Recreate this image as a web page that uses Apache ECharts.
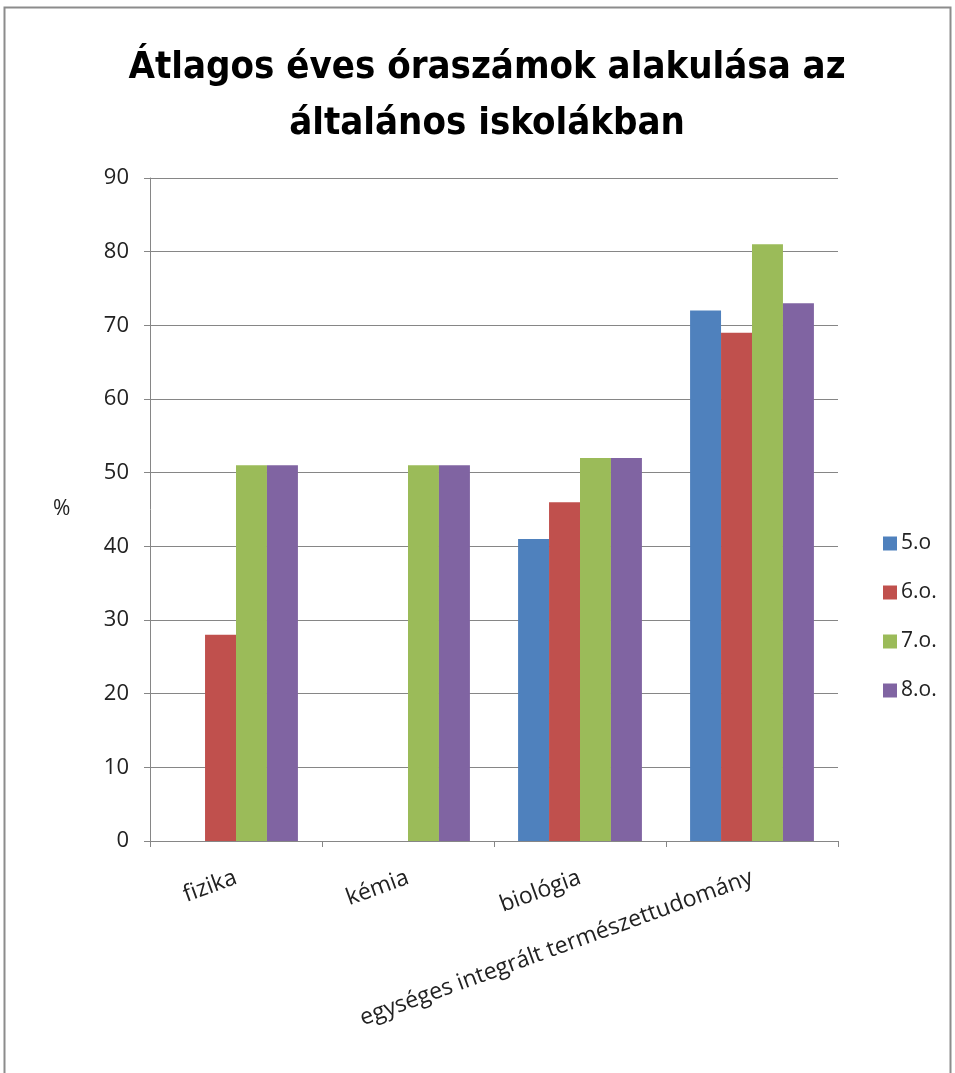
<!DOCTYPE html>
<html>
<head>
<meta charset="utf-8">
<script src="https://cdn.jsdelivr.net/npm/echarts@6/dist/echarts.min.js"></script>
<style>
html,body{margin:0;padding:0;background:#fff;}
#c{width:955px;height:1073px;}
</style>
</head>
<body>
<div id="c"></div>
<script>
const categories = ['fizika', 'kémia', 'biológia', 'egységes integrált természettudomány'];
const seriesNames = ['5.o', '6.o.', '7.o.', '8.o.'];
const s5 = [null, null, 41, 72];
const s6 = [28, null, 46, 69];
const s7 = [51, 51, 52, 81];
const s8 = [51, 51, 52, 73];
const colors = ['#4f81bd', '#c0504d', '#9bbb59', '#8064a2'];
const titleText = 'Átlagos éves óraszámok alakulása az\náltalános iskolákban';
const yAxisName = '%';

const chart = echarts.init(document.getElementById('c'), null, {renderer: 'canvas'});
const font = '"Open Sans", "DejaVu Sans", sans-serif';
const values = [s5, s6, s7, s8];
chart.setOption({
  animation: false,
  backgroundColor: '#fff',
  title: {
    text: titleText,
    left: 482,
    textAlign: 'center',
    top: 35,
    textStyle: {
      fontFamily: '"DejaVu Sans Condensed", "Liberation Sans Narrow", "Open Sans", sans-serif',
      fontWeight: 'bold', fontSize: 38, lineHeight: 56, color: '#000'
    }
  },
  graphic: [{
    type: 'rect', shape: {x: 4.5, y: 7.5, width: 946, height: 1080},
    style: {fill: 'none', stroke: '#8c8c8c', lineWidth: 2}, silent: true
  }, {
    type: 'text', left: 53, top: 499,
    style: {text: yAxisName, font: '21px ' + font, fill: '#222'}
  }],
  legend: {
    orient: 'vertical',
    left: 878, top: 528,
    itemWidth: 14, itemHeight: 14, itemGap: 28,
    icon: 'rect',
    data: seriesNames,
    textStyle: {fontFamily: font, fontSize: 21, color: '#222', padding: [0, 0, 0, -1]}
  },
  grid: {left: 150, right: 117, top: 178, bottom: 232, containLabel: false},
  xAxis: {
    type: 'category',
    data: categories,
    axisLine: {lineStyle: {color: '#868686', width: 1}},
    axisTick: {show: true, alignWithLabel: false, length: 6, lineStyle: {color: '#868686'}},
    axisLabel: {
      rotate: 20, interval: 0, margin: 36,
      fontFamily: font, fontSize: 23, color: '#222'
    }
  },
  yAxis: {
    type: 'value', min: 0, max: 90, interval: 10,
    axisLine: {show: true, lineStyle: {color: '#868686', width: 1}},
    axisTick: {show: true, length: 6, inside: false, lineStyle: {color: '#868686'}},
    splitLine: {lineStyle: {color: '#868686', width: 1}},
    axisLabel: {fontFamily: font, fontSize: 22, color: '#222', margin: 21}
  },
  series: seriesNames.map((n, i) => ({
    name: n,
    type: 'bar',
    data: values[i],
    barGap: '0%',
    barCategoryGap: '28%',
    itemStyle: {color: colors[i]}
  }))
});
</script>
</body>
</html>
